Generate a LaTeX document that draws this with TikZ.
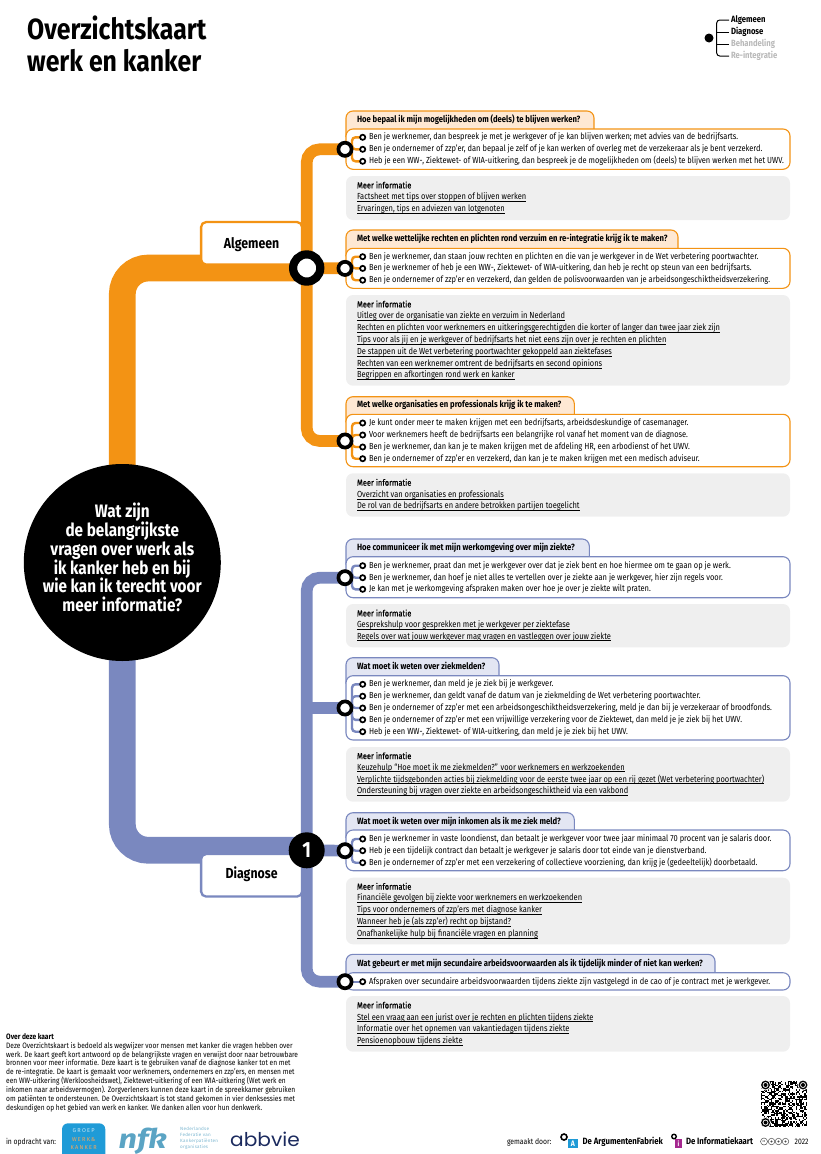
\documentclass[tikz,border=0pt]{standalone}
\usepackage{fontspec}
\setmainfont[FakeStretch=0.85]{Fira Sans}
\newfontfamily\halfbold[FakeStretch=0.85,FakeBold=0.3]{Fira Sans}
\newfontfamily\spacedfont[LetterSpace=22]{Fira Sans}
\newfontfamily\tinyfont[LetterSpace=5]{Fira Sans}
\newfontfamily\wideitalic[FakeStretch=1.2]{Fira Sans}
\newfontfamily\roundfont[FakeStretch=1.06]{Poppins}
\usepackage{tikz}
\usetikzlibrary{calc}

\definecolor{tangerine}{HTML}{F39314}
\definecolor{tangerinetab}{HTML}{FEE8D3}
\definecolor{slateblue}{HTML}{7A88BF}
\definecolor{slatebluetab}{HTML}{E3E6F3}
\definecolor{infogrey}{HTML}{EFEFEF}
\definecolor{fadedgrey}{HTML}{B8B8B8}
\definecolor{nfkblue}{HTML}{5BA4C4}
\definecolor{groepblue}{HTML}{1F9BD7}
\definecolor{groeptan}{HTML}{F5A85C}
\definecolor{abbvieblue}{HTML}{1B2A5E}
\definecolor{afblue}{HTML}{1E9AD6}
\definecolor{ikmagenta}{HTML}{A5278F}

\newsavebox{\linkbox}
\newcommand{\linked}[1]{\sbox{\linkbox}{#1}\usebox{\linkbox}\llap{\rule[-1.7pt]{\wd\linkbox}{0.5pt}}}

\pgfdeclarelayer{panels}
\pgfdeclarelayer{wires}
\pgfsetlayers{panels,wires,main}

\begin{document}
\begin{tikzpicture}[x=1pt, y=-1pt,
    trunk/.style={line width=26.7pt},
    branch/.style={line width=11.7pt, rounded corners=13pt},
    twig/.style={line width=2.4pt, rounded corners=3.5pt},
    ring/.style={circle, draw=black, fill=white, line width=3.7pt, minimum size=13.2pt, inner sep=0pt, outer sep=0pt},
    hubring/.style={circle, draw=black, fill=white, line width=8.2pt, minimum size=27.2pt, inner sep=0pt, outer sep=0pt},
    dot/.style={circle, draw=black, fill=white, line width=1.7pt, minimum size=5.2pt, inner sep=0pt, outer sep=0pt},
    plain/.style={inner sep=0pt, outer sep=0pt, anchor=west, text height=6.8pt, text depth=2pt},
    itemtext/.style={plain, font=\fontsize{8.8}{11}\selectfont},
    tabtext/.style={plain, font=\fontsize{9.05}{11}\selectfont\bfseries},
    linktext/.style={plain, font=\fontsize{8.8}{11}\selectfont},
    infohead/.style={plain, font=\halfbold\fontsize{8.8}{11}\selectfont},
    stage/.style={draw=#1, fill=white, line width=2.3pt, rounded corners=5pt, minimum width=101pt, minimum height=42.5pt, inner sep=0pt, font=\fontsize{14.5}{16}\selectfont\bfseries},
    smalltext/.style={plain, font=\fontsize{8}{9}\selectfont}
  ]
  \useasboundingbox (0,0) rectangle (820,1154);

  % Title
  \node[inner sep=0pt, anchor=north west, align=left, font=\fontsize{29.2}{31.5}\selectfont\bfseries] (title) at (27,15.7) {Overzichtskaart\\werk en kanker};

  % Legend
  \node[circle, fill=black, minimum size=9pt, inner sep=0pt] (lgdot) at (709,38) {};
  \coordinate (lgx) at (716.7,38);
  \node[tabtext, xshift=2pt] (lg1) at (729,20) {Algemeen};
  \node[tabtext, xshift=2pt] (lg2) at (729,32) {Diagnose};
  \node[tabtext, xshift=2pt, fadedgrey] (lg3) at (729,44) {Behandeling};
  \node[tabtext, xshift=2pt, fadedgrey] (lg4) at (729,56) {Re-integratie};
  \draw[line width=1pt, rounded corners=3pt] ($(lg1.west)+(-2,0)$) -| (lgx) |- ($(lg4.west)+(-2,0)$);
  \draw[line width=1pt] ($(lg2.west)+(-2,0)$) -- (lg2.west -| lgx);
  \draw[line width=1pt] ($(lg3.west)+(-2,0)$) -- (lg3.west -| lgx);

  % Question cards
  \begin{pgfonlayer}{panels}
    \foreach \col/\tint/\ytab/\xtab/\ycard/\yend in {
      tangerine/tangerinetab/111/594/129/169.3,
      tangerine/tangerinetab/230/678/248.3/288.3,
      tangerine/tangerinetab/396.7/574.3/414.3/466.7,
      slateblue/slatebluetab/539/589.3/556.7/597.7,
      slateblue/slatebluetab/657.7/499/675.7/740,
      slateblue/slatebluetab/812.7/574.3/830/870.7,
      slateblue/slatebluetab/954.3/715/972.7/990}{
      \filldraw[draw=\col, fill=\tint, line width=1.1pt, rounded corners=7pt] (346,\ycard+8) -- (346,\ytab) -- (\xtab,\ytab) -- (\xtab,\ycard+8);
      \filldraw[draw=\col, fill=white, line width=1.1pt, rounded corners=7pt] (346,\ycard) rectangle (790,\yend);
    }
    % Grey boxes
    \foreach \ytop/\yend in {176/220, 295/385.7, 473.3/516.7, 604/647.3, 747/801.7, 877.7/944.3, 996/1051.7}{
      \fill[infogrey, rounded corners=7pt] (346,\ytop) rectangle (790,\yend);
    }
  \end{pgfonlayer}

  % Stage labels
  \node[stage=tangerine, text height=12pt, text depth=1.6pt] (algemeen) at (251.6,243.3) {Algemeen};
  \node[stage=slateblue, text height=10pt, text depth=3.6pt] (diagnose) at (251.6,875.3) {Diagnose};

  % Centre and hubs
  \node[circle, fill=black, minimum size=197pt, inner sep=0pt] (core) at (122.3,562.5) {};
  \node[text=white, align=center, inner sep=0pt, font=\fontsize{18}{18.8}\selectfont\bfseries] (coretxt) at (122.3,557.5) {Wat zijn\\de belangrijkste\\vragen over werk als\\ik kanker heb en bij\\wie kan ik terecht voor\\meer informatie?};
  \node[hubring] (alghub) at (306.7,268) {};
  \node[circle, fill=black, text=white, minimum size=36pt, inner sep=0pt, font=\fontsize{22}{22}\selectfont\bfseries] (diahub) at (306.7,850.3) {1};
  \node[ring] (q1) at (345,149.3) {};
  \node[ring] (q2) at (345,268.4) {};
  \node[ring] (q3) at (345,441) {};
  \node[ring] (q4) at (345,577.7) {};
  \node[ring] (q5) at (345,708) {};
  \node[ring] (q6) at (345,850.7) {};
  \node[ring] (q7) at (345,981.7) {};

  % Trunks and branches
  \begin{pgfonlayer}{wires}
    \draw[trunk, tangerine, rounded corners=26pt] (core.center) |- (alghub.center);
    \draw[trunk, slateblue, rounded corners=26pt] (core.center) |- (diahub.center);
    \draw[branch, tangerine] (q1.center) -| (alghub.center) |- (q3.center);
    \draw[branch, tangerine] (alghub.center) -- (q2.center);
    \draw[branch, slateblue] (q4.center) -| (diahub.center) |- (q7.center);
    \draw[branch, slateblue] (q5.center -| diahub.center) -- (q5.center);
    \draw[branch, slateblue] (diahub.center) -- (q6.center);
  \end{pgfonlayer}

  % Algemeen 1
  \node[tabtext] (tab1) at (357,120.5) {Hoe bepaal ik mijn mogelijkheden om (deels) te blijven werken?};
  \foreach \n/\ypos/\txt in {
    a/137.3/{Ben je werknemer, dan bespreek je met je werkgever of je kan blijven werken; met advies van de bedrijfsarts.},
    b/149.3/{Ben je ondernemer of zzp’er, dan bepaal je zelf of je kan werken of overleg met de verzekeraar als je bent verzekerd.},
    c/161.3/{Heb je een WW-, Ziektewet- of WIA-uitkering, dan bespreek je de mogelijkheden om (deels) te blijven werken met het UWV.}}{
    \node[dot] (q1\n) at (362.7,\ypos) {};
    \node[itemtext] (q1\n txt) at (369,\ypos) {\txt};
    \begin{pgfonlayer}{wires}
      \draw[twig, tangerine] (q1.center) -- ++(7,0) |- (q1\n.center);
    \end{pgfonlayer}
  }
  \node[infohead] (i1a) at (357,186) {Meer informatie};
  \foreach \n/\ypos/\txt in {
    b/197.5/{Factsheet met tips over stoppen of blijven werken},
    c/209.5/{Ervaringen, tips en adviezen van lotgenoten}}{
    \node[linktext] (i1\n) at (357,\ypos) {\linked{\txt}};
  }

  % Algemeen 2
  \node[tabtext] (tab2) at (357,239.5) {Met welke wettelijke rechten en plichten rond verzuim en re-integratie krijg ik te maken?};
  \foreach \n/\ypos/\txt in {
    a/256.7/{Ben je werknemer, dan staan jouw rechten en plichten en die van je werkgever in de Wet verbetering poortwachter.},
    b/268.4/{Ben je werknemer of heb je een WW-, Ziektewet- of WIA-uitkering, dan heb je recht op steun van een bedrijfsarts.},
    c/280.2/{Ben je ondernemer of zzp’er en verzekerd, dan gelden de polisvoorwaarden van je arbeidsongeschiktheidsverzekering.}}{
    \node[dot] (q2\n) at (362.7,\ypos) {};
    \node[itemtext] (q2\n txt) at (369,\ypos) {\txt};
    \begin{pgfonlayer}{wires}
      \draw[twig, tangerine] (q2.center) -- ++(7,0) |- (q2\n.center);
    \end{pgfonlayer}
  }
  \node[infohead] (i2a) at (357,305) {Meer informatie};
  \foreach \n/\ypos/\txt in {
    b/316/{Uitleg over de organisatie van ziekte en verzuim in Nederland},
    c/328/{Rechten en plichten voor werknemers en uitkeringsgerechtigden die korter of langer dan twee jaar ziek zijn},
    d/340/{Tips voor als jij en je werkgever of bedrijfsarts het niet eens zijn over je rechten en plichten},
    e/352/{De stappen uit de Wet verbetering poortwachter gekoppeld aan ziektefases},
    f/364/{Rechten van een werknemer omtrent de bedrijfsarts en second opinions},
    g/375.5/{Begrippen en afkortingen rond werk en kanker}}{
    \node[linktext] (i2\n) at (357,\ypos) {\linked{\txt}};
  }

  % Algemeen 3
  \node[tabtext] (tab3) at (357,405.5) {Met welke organisaties en professionals krijg ik te maken?};
  \foreach \n/\ypos/\txt in {
    a/423/{Je kunt onder meer te maken krijgen met een bedrijfsarts, arbeidsdeskundige of casemanager.},
    b/435/{Voor werknemers heeft de bedrijfsarts een belangrijke rol vanaf het moment van de diagnose.},
    c/447/{Ben je werknemer, dan kan je te maken krijgen met de afdeling HR, een arbodienst of het UWV.},
    d/458.7/{Ben je ondernemer of zzp’er en verzekerd, dan kan je te maken krijgen met een medisch adviseur.}}{
    \node[dot] (q3\n) at (362.7,\ypos) {};
    \node[itemtext] (q3\n txt) at (369,\ypos) {\txt};
    \begin{pgfonlayer}{wires}
      \draw[twig, tangerine] (q3.center) -- ++(7,0) |- (q3\n.center);
    \end{pgfonlayer}
  }
  \node[infohead] (i3a) at (357,483.3) {Meer informatie};
  \foreach \n/\ypos/\txt in {
    b/495/{Overzicht van organisaties en professionals},
    c/506/{De rol van de bedrijfsarts en andere betrokken partijen toegelicht}}{
    \node[linktext] (i3\n) at (357,\ypos) {\linked{\txt}};
  }

  % Diagnose 1
  \node[tabtext] (tab4) at (357,548) {Hoe communiceer ik met mijn werkomgeving over mijn ziekte?};
  \foreach \n/\ypos/\txt in {
    a/565.7/{Ben je werknemer, praat dan met je werkgever over dat je ziek bent en hoe hiermee om te gaan op je werk.},
    b/577.7/{Ben je werknemer, dan hoef je niet alles te vertellen over je ziekte aan je werkgever, hier zijn regels voor.},
    c/589.3/{Je kan met je werkomgeving afspraken maken over hoe je over je ziekte wilt praten.}}{
    \node[dot] (q4\n) at (362.7,\ypos) {};
    \node[itemtext] (q4\n txt) at (369,\ypos) {\txt};
    \begin{pgfonlayer}{wires}
      \draw[twig, slateblue] (q4.center) -- ++(7,0) |- (q4\n.center);
    \end{pgfonlayer}
  }
  \node[infohead] (i4a) at (357,614) {Meer informatie};
  \foreach \n/\ypos/\txt in {
    b/625.3/{Gesprekshulp voor gesprekken met je werkgever per ziektefase},
    c/636.7/{Regels over wat jouw werkgever mag vragen en vastleggen over jouw ziekte}}{
    \node[linktext] (i4\n) at (357,\ypos) {\linked{\txt}};
  }

  % Diagnose 2
  \node[tabtext] (tab5) at (357,667) {Wat moet ik weten over ziekmelden?};
  \foreach \n/\ypos/\txt in {
    a/684.3/{Ben je werknemer, dan meld je je ziek bij je werkgever.},
    b/696.2/{Ben je werknemer, dan geldt vanaf de datum van je ziekmelding de Wet verbetering poortwachter.},
    c/708/{Ben je ondernemer of zzp’er met een arbeidsongeschiktheidsverzekering, meld je dan bij je verzekeraar of broodfonds.},
    d/719.8/{Ben je ondernemer of zzp’er met een vrijwillige verzekering voor de Ziektewet, dan meld je je ziek bij het UWV.},
    e/731.7/{Heb je een WW-, Ziektewet- of WIA-uitkering, dan meld je je ziek bij het UWV.}}{
    \node[dot] (q5\n) at (362.7,\ypos) {};
    \node[itemtext] (q5\n txt) at (369,\ypos) {\txt};
    \begin{pgfonlayer}{wires}
      \draw[twig, slateblue] (q5.center) -- ++(7,0) |- (q5\n.center);
    \end{pgfonlayer}
  }
  \node[infohead] (i5a) at (357,756.7) {Meer informatie};
  \foreach \n/\ypos/\txt in {
    b/767.7/{Keuzehulp “Hoe moet ik me ziekmelden?” voor werknemers en werkzoekenden},
    c/779.7/{Verplichte tijdsgebonden acties bij ziekmelding voor de eerste twee jaar op een rij gezet (Wet verbetering poortwachter)},
    d/791.3/{Ondersteuning bij vragen over ziekte en arbeidsongeschiktheid via een vakbond}}{
    \node[linktext] (i5\n) at (357,\ypos) {\linked{\txt}};
  }

  % Diagnose 3
  \node[tabtext] (tab6) at (357,822) {Wat moet ik weten over mijn inkomen als ik me ziek meld?};
  \foreach \n/\ypos/\txt in {
    a/839/{Ben je werknemer in vaste loondienst, dan betaalt je werkgever voor twee jaar minimaal 70 procent van je salaris door.},
    b/850.7/{Heb je een tijdelijk contract dan betaalt je werkgever je salaris door tot einde van je dienstverband.},
    c/862.7/{Ben je ondernemer of zzp’er met een verzekering of collectieve voorziening, dan krijg je (gedeeltelijk) doorbetaald.}}{
    \node[dot] (q6\n) at (362.7,\ypos) {};
    \node[itemtext] (q6\n txt) at (369,\ypos) {\txt};
    \begin{pgfonlayer}{wires}
      \draw[twig, slateblue] (q6.center) -- ++(7,0) |- (q6\n.center);
    \end{pgfonlayer}
  }
  \node[infohead] (i6a) at (357,887.3) {Meer informatie};
  \foreach \n/\ypos/\txt in {
    b/898.3/{Financiële gevolgen bij ziekte voor werknemers en werkzoekenden},
    c/910/{Tips voor ondernemers of zzp’ers met diagnose kanker},
    d/922/{Wanneer heb je (als zzp’er) recht op bijstand?},
    e/934/{Onafhankelijke hulp bij financiële vragen en planning}}{
    \node[linktext] (i6\n) at (357,\ypos) {\linked{\txt}};
  }

  % Diagnose 4
  \node[tabtext] (tab7) at (357,964) {Wat gebeurt er met mijn secundaire arbeidsvoorwaarden als ik tijdelijk minder of niet kan werken?};
  \node[dot] (q7a) at (362.7,981.7) {};
  \node[itemtext] (q7atxt) at (369,981.7) {Afspraken over secundaire arbeidsvoorwaarden tijdens ziekte zijn vastgelegd in de cao of je contract met je werkgever.};
  \begin{pgfonlayer}{wires}
    \draw[twig, slateblue] (q7.center) -- (q7a.center);
  \end{pgfonlayer}
  \node[infohead] (i7a) at (357,1006) {Meer informatie};
  \foreach \n/\ypos/\txt in {
    b/1017.7/{Stel een vraag aan een jurist over je rechten en plichten tijdens ziekte},
    c/1029/{Informatie over het opnemen van vakantiedagen tijdens ziekte},
    d/1041/{Pensioenopbouw tijdens ziekte}}{
    \node[linktext] (i7\n) at (357,\ypos) {\linked{\txt}};
  }

  % About text
  \node[anchor=north west, align=left, inner sep=0pt, font=\fontsize{7.8}{8.95}\selectfont] (about) at (6,1033) {\textbf{Over deze kaart}\\
    Deze Overzichtskaart is bedoeld als wegwijzer voor mensen met kanker die vragen hebben over\\
    werk. De kaart geeft kort antwoord op de belangrijkste vragen en verwijst door naar betrouwbare\\
    bronnen voor meer informatie. Deze kaart is te gebruiken vanaf de diagnose kanker tot en met\\
    de re-integratie. De kaart is gemaakt voor werknemers, ondernemers en zzp’ers, en mensen met\\
    een WW-uitkering (Werkloosheidswet), Ziektewet-uitkering of een WIA-uitkering (Wet werk en\\
    inkomen naar arbeidsvermogen). Zorgverleners kunnen deze kaart in de spreekkamer gebruiken\\
    om patiënten te ondersteunen. De Overzichtskaart is tot stand gekomen in vier denksessies met\\
    deskundigen op het gebied van werk en kanker. We danken allen voor hun denkwerk.};

  % Client logos
  \node[smalltext] (client) at (6,1142) {in opdracht van:};
  \fill[groepblue, rounded corners=6pt] (62,1123.3) rectangle (105.3,1160);
  \node[font=\spacedfont\fontsize{5.6}{6}\selectfont, text=white!75!groepblue, inner sep=0pt] (groep1) at (83.7,1131) {GROEP};
  \node[font=\spacedfont\fontsize{5.6}{6}\selectfont, text=groeptan, inner sep=0pt] (groep2) at (83.7,1139.5) {WERK\&};
  \node[font=\spacedfont\fontsize{5.6}{6}\selectfont, text=groeptan, inner sep=0pt] (groep3) at (83.7,1148) {KANKER};
  \node[font=\wideitalic\fontsize{27}{27}\selectfont\bfseries\itshape, text=nfkblue, inner sep=0pt, anchor=base west] (nfk) at (118.5,1148) {nfk};
  \node[anchor=west, align=left, inner sep=0pt, text=nfkblue!80!white, font=\tinyfont\fontsize{4.6}{5.9}\selectfont] (nfksub) at (180,1138.5) {Nederlandse\\Federatie van\\Kankerpatiënten\\organisaties};
  \node[font=\roundfont\fontsize{19}{19}\selectfont, text=abbvieblue, inner sep=0pt, anchor=base west] (abbvie) at (230,1146) {abbvie};

  % Maker line
  \node[smalltext] (makers) at (507,1142) {gemaakt door:};
  \fill[afblue] (567.7,1139) rectangle (578,1147.5);
  \node[font=\fontsize{8}{8}\selectfont\bfseries, text=white, inner sep=0pt] (afmark) at (572.9,1143.3) {A};
  \node[circle, draw=black, fill=white, line width=1.6pt, minimum size=6pt, inner sep=0pt] (afring) at (564,1137) {};
  \node[tabtext, font=\fontsize{9.1}{9}\selectfont\bfseries] (af) at (582.7,1142) {De ArgumentenFabriek};
  \fill[ikmagenta] (675.3,1139) rectangle (681.7,1147.5);
  \node[font=\fontsize{7}{7}\selectfont\bfseries, text=white, inner sep=0pt] (ikmark) at (678.5,1143.3) {i};
  \node[circle, draw=black, fill=white, line width=1.4pt, minimum size=4.5pt, inner sep=0pt] (ikring) at (674,1136.5) {};
  \node[tabtext, font=\fontsize{9.1}{9}\selectfont\bfseries] (ik) at (686,1142) {De Informatiekaart};
  \node[circle, draw=black!70, line width=0.5pt, minimum size=7pt, inner sep=0pt, font=\fontsize{3.5}{4}\selectfont] (cc) at (764,1141.5) {cc};
  \foreach \n/\xpos in {by/771.5, nc/778.5, sa/785.5}{
    \node[circle, draw=black!70, line width=0.5pt, minimum size=6.5pt, inner sep=0pt] (cc\n) at (\xpos,1141.5) {};
    \fill[black!70] (\xpos,1141.5) circle (1.2pt);
  }
  \node[smalltext] (year) at (794.7,1142) {2022};

  % QR code
  \pgfmathsetseed{1754}
  \foreach \qrx in {0,...,32}{
    \foreach \qry in {0,...,32}{
      \pgfmathparse{rnd}
      \ifdim\pgfmathresult pt>0.5pt
        \fill[black] (761+\qrx*1.4,1080.7+\qry*1.4) rectangle ++(1.4,1.4);
      \fi
    }
  }
  \foreach \n/\xpos/\ypos in {tl/765.5/1085, tr/803/1085, bl/765.5/1122.5}{
    \node[circle, fill=white, minimum size=11pt, inner sep=0pt] (qr\n) at (\xpos,\ypos) {};
    \node[circle, draw=black, fill=white, line width=1.3pt, minimum size=7.5pt, inner sep=0pt] (qr\n ring) at (\xpos,\ypos) {};
    \fill[black] (\xpos,\ypos) circle (2pt);
  }
\end{tikzpicture}
\end{document}
